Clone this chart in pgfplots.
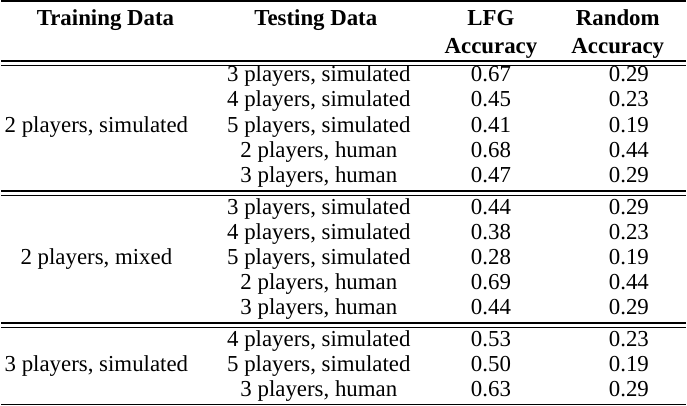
\documentclass[border=0pt]{standalone}
\usepackage{fontspec}
\setmainfont{Liberation Serif}
\usepackage{pgfplots}
\usepackage{pgfplotstable}
\pgfplotsset{compat=1.18}

\pgfplotstableread[col sep=semicolon]{
y;test;lfg;rand
83.5;3 players, simulated;0.67;0.29
108.5;4 players, simulated;0.45;0.23
133.5;5 players, simulated;0.41;0.19
158.5;2 players, human;0.68;0.44
183.5;3 players, human;0.47;0.29
215;3 players, simulated;0.44;0.29
240;4 players, simulated;0.38;0.23
265;5 players, simulated;0.28;0.19
290;2 players, human;0.69;0.44
315;3 players, human;0.44;0.29
346.5;4 players, simulated;0.53;0.23
371.5;5 players, simulated;0.50;0.19
396.5;3 players, human;0.63;0.29
}\rows

\pgfplotstableread[col sep=semicolon]{
y;train
133.5;2 players, simulated
265;2 players, mixed
371.5;3 players, simulated
}\groups

\newcommand{\tf}{\fontsize{11.35}{13}\selectfont}

\begin{document}
\begin{tikzpicture}
\begin{axis}[
  width=343.5pt, height=207.5pt, scale only axis,
  xmin=0, xmax=687, ymin=0, ymax=415, y dir=reverse,
  hide axis, clip=false,
  every node near coord/.append style={font=\tf, anchor=base, inner sep=0pt, text=black},
]
\addplot[only marks, mark=none, nodes near coords, point meta=explicit symbolic]
  table[x expr=98, y=y, meta=train] {\groups};
\addplot[only marks, mark=none, nodes near coords, point meta=explicit symbolic]
  table[x expr=319, y=y, meta=test] {\rows};
\addplot[only marks, mark=none, nodes near coords, point meta=explicit symbolic]
  table[x expr=490, y=y, meta=lfg] {\rows};
\addplot[only marks, mark=none, nodes near coords, point meta=explicit symbolic]
  table[x expr=627, y=y, meta=rand] {\rows};

\node[font=\tf\bfseries, anchor=base, inner sep=0pt] at (axis cs:107,27.5) {Training Data};
\node[font=\tf\bfseries, anchor=base, inner sep=0pt] at (axis cs:316,27.5) {Testing Data};
\node[font=\tf\bfseries, anchor=base, inner sep=0pt] at (axis cs:490,27.5) {LFG};
\node[font=\tf\bfseries, anchor=base, inner sep=0pt] at (axis cs:490,55) {Accuracy};
\node[font=\tf\bfseries, anchor=base, inner sep=0pt] at (axis cs:616,27.5) {Random};
\node[font=\tf\bfseries, anchor=base, inner sep=0pt] at (axis cs:616,55) {Accuracy};

\draw[line width=0.75pt] (axis cs:3,3) -- (axis cs:684,3);
\draw[line width=0.75pt] (axis cs:3,63) -- (axis cs:684,63);
\draw[line width=0.75pt] (axis cs:3,67.5) -- (axis cs:684,67.5);
\draw[line width=0.75pt] (axis cs:3,192) -- (axis cs:684,192);
\draw[line width=0.75pt] (axis cs:3,196.5) -- (axis cs:684,196.5);
\draw[line width=0.75pt] (axis cs:3,323) -- (axis cs:684,323);
\draw[line width=0.75pt] (axis cs:3,327.5) -- (axis cs:684,327.5);
\draw[line width=0.75pt] (axis cs:3,404) -- (axis cs:684,404);
\end{axis}
\end{tikzpicture}
\end{document}
